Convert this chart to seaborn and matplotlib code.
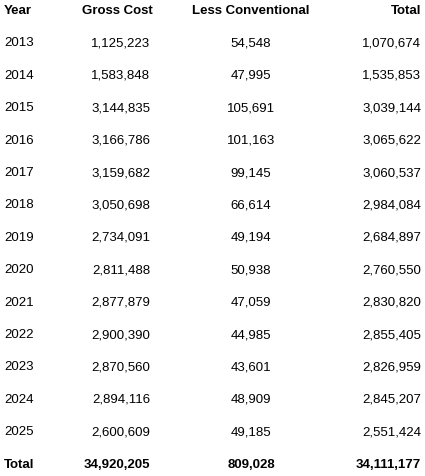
import matplotlib
matplotlib.use("Agg")
import matplotlib.pyplot as plt
import seaborn as sns

years = [2013, 2014, 2015, 2016, 2017, 2018, 2019, 2020, 2021, 2022, 2023, 2024, 2025]
gross_cost = [1125223, 1583848, 3144835, 3166786, 3159682, 3050698, 2734091,
              2811488, 2877879, 2900390, 2870560, 2894116, 2600609]
less_conventional = [54548, 47995, 105691, 101163, 99145, 66614, 49194,
                     50938, 47059, 44985, 43601, 48909, 49185]
total = [1070674, 1535853, 3039144, 3065622, 3060537, 2984084, 2684897,
         2760550, 2830820, 2855405, 2826959, 2845207, 2551424]
headers = ["Year", "Gross Cost", "Less Conventional", "Total"]
# totals as printed in the source (rounded figures, not exact column sums)
totals_row = [34920205, 809028, 34111177]

sns.set_style("white")
plt.rcParams['font.family'] = ['Liberation Sans', 'DejaVu Sans']
plt.rcParams['text.color'] = 'black'

fig = plt.figure(figsize=(4.25, 4.76), dpi=100)
ax = fig.add_axes([0, 0, 1, 1])
ax.set_xlim(0, 425)
ax.set_ylim(476, 0)
ax.axis("off")

fs = 9.5
row_h = 32.4
y0 = 11

ax.text(4, y0, headers[0], ha="left", va="center", fontsize=fs, fontweight="bold")
ax.text(117, y0, headers[1], ha="center", va="center", fontsize=fs, fontweight="bold")
ax.text(251, y0, headers[2], ha="center", va="center", fontsize=fs, fontweight="bold")
ax.text(421, y0, headers[3], ha="right", va="center", fontsize=fs, fontweight="bold")

for i, yr in enumerate(years):
    y = y0 + (i + 1) * row_h
    ax.text(4, y, str(yr), ha="left", va="center", fontsize=fs)
    ax.text(150, y, f"{gross_cost[i]:,}", ha="right", va="center", fontsize=fs)
    ax.text(251, y, f"{less_conventional[i]:,}", ha="center", va="center", fontsize=fs)
    ax.text(421, y, f"{total[i]:,}", ha="right", va="center", fontsize=fs)

y = y0 + (len(years) + 1) * row_h
ax.text(4, y, "Total", ha="left", va="center", fontsize=fs, fontweight="bold")
ax.text(117, y, f"{totals_row[0]:,}", ha="center", va="center", fontsize=fs, fontweight="bold")
ax.text(251, y, f"{totals_row[1]:,}", ha="center", va="center", fontsize=fs, fontweight="bold")
ax.text(421, y, f"{totals_row[2]:,}", ha="right", va="center", fontsize=fs, fontweight="bold")

fig.savefig("out.png", dpi=100)
